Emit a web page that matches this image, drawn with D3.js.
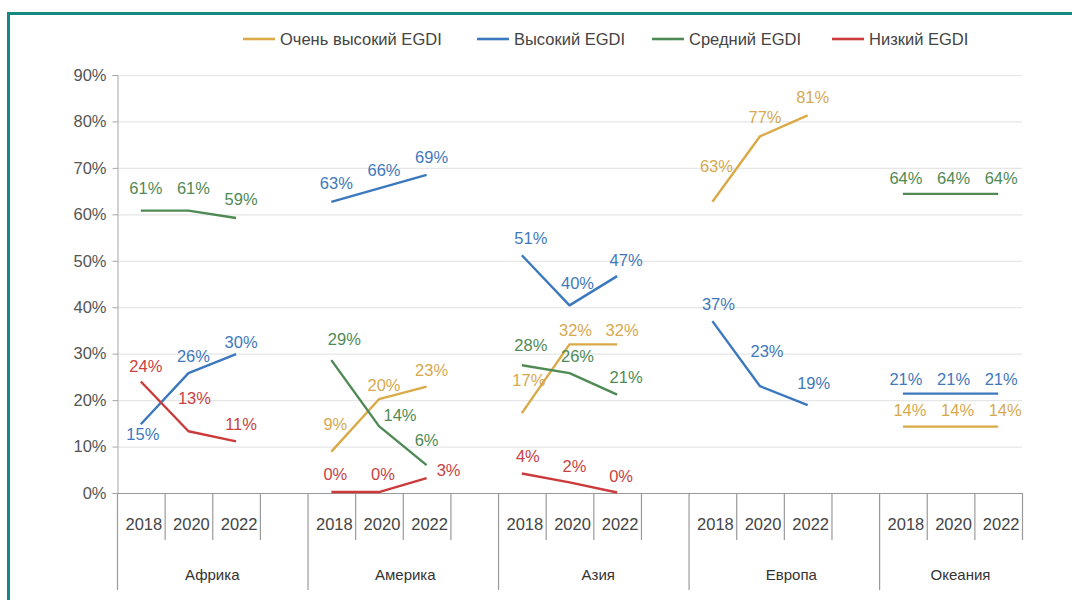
<!DOCTYPE html>
<html><head><meta charset="utf-8">
<script src="https://cdn.jsdelivr.net/npm/d3@7"></script>
<style>
html,body{margin:0;padding:0;background:#fff;}
svg{display:block;font-family:"Liberation Sans",Arial,sans-serif;}
</style></head>
<body>
<svg id="chart" width="1072" height="600"></svg>
<script>
// ---- data ----
const regions = ["Африка", "Америка", "Азия", "Европа", "Океания"];
const years = ["2018", "2020", "2022"];
const seriesNames = ["Очень высокий EGDI", "Высокий EGDI", "Средний EGDI", "Низкий EGDI"];
const yTicks = [0, 10, 20, 30, 40, 50, 60, 70, 80, 90];

// values in %, per region, per year (null = no data)
const veryHigh = [[null, null, null], [8.9, 20.2, 22.9], [17.2, 32.0, 32.0], [62.7, 76.8, 81.3], [14.3, 14.3, 14.3]];
const high     = [[14.8, 25.8, 29.9], [62.7, 65.6, 68.5], [51.2, 40.4, 46.7], [37.0, 23.0, 18.9], [21.4, 21.4, 21.4]];
const medium   = [[60.8, 60.8, 59.2], [28.6, 14.4, 6.0], [27.5, 25.8, 21.2], [null, null, null], [64.4, 64.4, 64.4]];
const low      = [[24.0, 13.3, 11.1], [0.2, 0.2, 3.2], [4.2, 2.3, 0.1], [null, null, null], [null, null, null]];

// ---- layout / style ----
const seriesData = [veryHigh, high, medium, low];
const lineColors = ["#d9aa47", "#3b78bd", "#4f8a54", "#cc3b3b"];
const textColors = ["#d6a94f", "#3f79bb", "#4f8a55", "#c94242"];
// label offsets (text centre relative to point) – defaults and exceptions
const defaultOffset = [5, -17];
const labelOffsets = {
  "2|0|0": [5, -23], "2|0|1": [5, -23], "2|0|2": [5, -19],
  "1|0|0": [2, 10], "1|0|2": [5, -12],
  "3|0|0": [5, -15], "3|0|1": [6, -33],
  "1|1|0": [5, -19], "1|1|1": [5, -18], "1|1|2": [5, -18],
  "2|1|0": [13, -21], "2|1|1": [21, -11], "2|1|2": [0, -25],
  "0|1|0": [4, -28], "0|1|1": [5, -14],
  "3|1|0": [4, -18], "3|1|1": [4, -18], "3|1|2": [22, -8],
  "1|2|0": [9, -17], "1|2|1": [8, -22], "1|2|2": [9, -16],
  "0|2|0": [7, -33], "0|2|1": [6, -14], "0|2|2": [5, -14],
  "2|2|0": [9, -20], "2|2|1": [8, -17], "2|2|2": [9, -17],
  "3|2|0": [6, -17], "3|2|1": [5, -16], "3|2|2": [4, -16],
  "0|3|0": [4, -36], "0|3|1": [5, -19], "0|3|2": [5, -18],
  "1|3|0": [6, -17], "1|3|1": [7, -35], "1|3|2": [6, -22],
  "2|4|0": [3, -16], "2|4|1": [3, -16], "2|4|2": [3, -16],
  "1|4|0": [3, -15], "1|4|1": [3, -15], "1|4|2": [3, -15],
  "0|4|0": [7, -17], "0|4|1": [7, -17], "0|4|2": [7, -17]
};

const svg = d3.select("#chart");
const plotL = 117, plotR = 1022, plotT = 75, plotB = 493;

// teal frame (top + left only)
svg.append("rect").attr("x", 7).attr("y", 12).attr("width", 1072).attr("height", 3).attr("fill", "#128a82");
svg.append("rect").attr("x", 7).attr("y", 12).attr("width", 3).attr("height", 600).attr("fill", "#128a82");

// slots: 3 years per region + a blank between regions
const slots = [];
regions.forEach((r, gi) => {
  years.forEach((yr, yi) => slots.push({key: gi + "-" + yi, g: gi, y: yi, label: yr}));
  if (gi < regions.length - 1) slots.push({key: gi + "-blank", g: gi, y: -1, label: ""});
});
const x = d3.scaleBand().domain(slots.map(s => s.key)).range([plotL, plotR]).padding(0);
const bw = x.bandwidth();
const cx = (g, yi) => x(g + "-" + yi) + bw / 2;
const y = d3.scaleLinear().domain([0, 90]).range([plotB, plotT]);

// gridlines
svg.append("g").selectAll("line").data(yTicks.filter(t => t > 0)).join("line")
  .attr("x1", plotL).attr("x2", plotR)
  .attr("y1", d => y(d) + 0.5).attr("y2", d => y(d) + 0.5)
  .attr("stroke", "#e6e6e6").attr("stroke-width", 1.2);

// y axis
const yAxis = d3.axisLeft(y).tickValues(yTicks).tickFormat(d => d + "%").tickSize(5).tickPadding(6);
const gy = svg.append("g").attr("transform", `translate(${plotL + 0.5},0)`).call(yAxis);
gy.select(".domain").attr("stroke", "#a6a6a6");
gy.selectAll(".tick line").attr("stroke", "#a6a6a6");
gy.selectAll(".tick text").attr("font-size", 16.5).attr("fill", "#555")
  .attr("font-family", "Liberation Sans, Arial, sans-serif");

// x axis base line
svg.append("line").attr("x1", plotL).attr("x2", plotR)
  .attr("y1", plotB + 0.5).attr("y2", plotB + 0.5).attr("stroke", "#9a9a9a").attr("stroke-width", 1.2);

// category ticks
const tickG = svg.append("g");
slots.forEach(s => {
  const x0 = x(s.key);
  const isGroupStart = s.y === 0;
  if (isGroupStart) {
    tickG.append("line").attr("x1", x0 + 0.5).attr("x2", x0 + 0.5).attr("y1", plotB).attr("y2", 590)
      .attr("stroke", "#9a9a9a").attr("stroke-width", 1.2);
  }
  if (s.y >= 0) {
    const x1 = x0 + bw;
    tickG.append("line").attr("x1", x1 + 0.5).attr("x2", x1 + 0.5).attr("y1", plotB).attr("y2", 540)
      .attr("stroke", "#9a9a9a").attr("stroke-width", 1.2);
    tickG.append("text").attr("x", x0 + bw / 2 + 3).attr("y", 530)
      .attr("text-anchor", "middle").attr("font-size", 16.5).attr("fill", "#444").text(s.label);
  }
});
// region labels
regions.forEach((r, gi) => {
  const gs = slots.filter(s => s.g === gi);
  const a = x(gs[0].key), b = x(gs[gs.length - 1].key) + bw;
  tickG.append("text").attr("x", (a + b) / 2 + gi * 2.5).attr("y", 580)
    .attr("text-anchor", "middle").attr("font-size", 15).attr("fill", "#333").text(r);
});

// lines
const line = d3.line().x(d => d.x).y(d => d.y);
seriesData.forEach((ser, si) => {
  ser.forEach((vals, gi) => {
    const pts = vals.map((v, yi) => v == null ? null : {x: cx(gi, yi), y: y(v), v, yi}).filter(Boolean);
    if (!pts.length) return;
    svg.append("path").datum(pts).attr("d", line).attr("fill", "none")
      .attr("stroke", lineColors[si]).attr("stroke-width", 2.4).attr("stroke-linejoin", "round");
  });
});
// labels
seriesData.forEach((ser, si) => {
  ser.forEach((vals, gi) => {
    vals.forEach((v, yi) => {
      if (v == null) return;
      const off = labelOffsets[si + "|" + gi + "|" + yi] || defaultOffset;
      svg.append("text").attr("x", cx(gi, yi) + off[0]).attr("y", y(v) + off[1])
        .attr("dy", "0.36em").attr("text-anchor", "middle")
        .attr("font-size", 16.5).attr("fill", textColors[si]).text(Math.round(v) + "%");
    });
  });
});

// legend
const legendX = [243, 477, 652, 832];
const lg = svg.append("g");
seriesNames.forEach((n, i) => {
  lg.append("line").attr("x1", legendX[i]).attr("x2", legendX[i] + 32)
    .attr("y1", 39).attr("y2", 39).attr("stroke", lineColors[i]).attr("stroke-width", 2.6);
  lg.append("text").attr("x", legendX[i] + 37).attr("y", 39).attr("dy", "0.35em")
    .attr("font-size", 16.5).attr("fill", "#444").text(n);
});
</script>
</body></html>
